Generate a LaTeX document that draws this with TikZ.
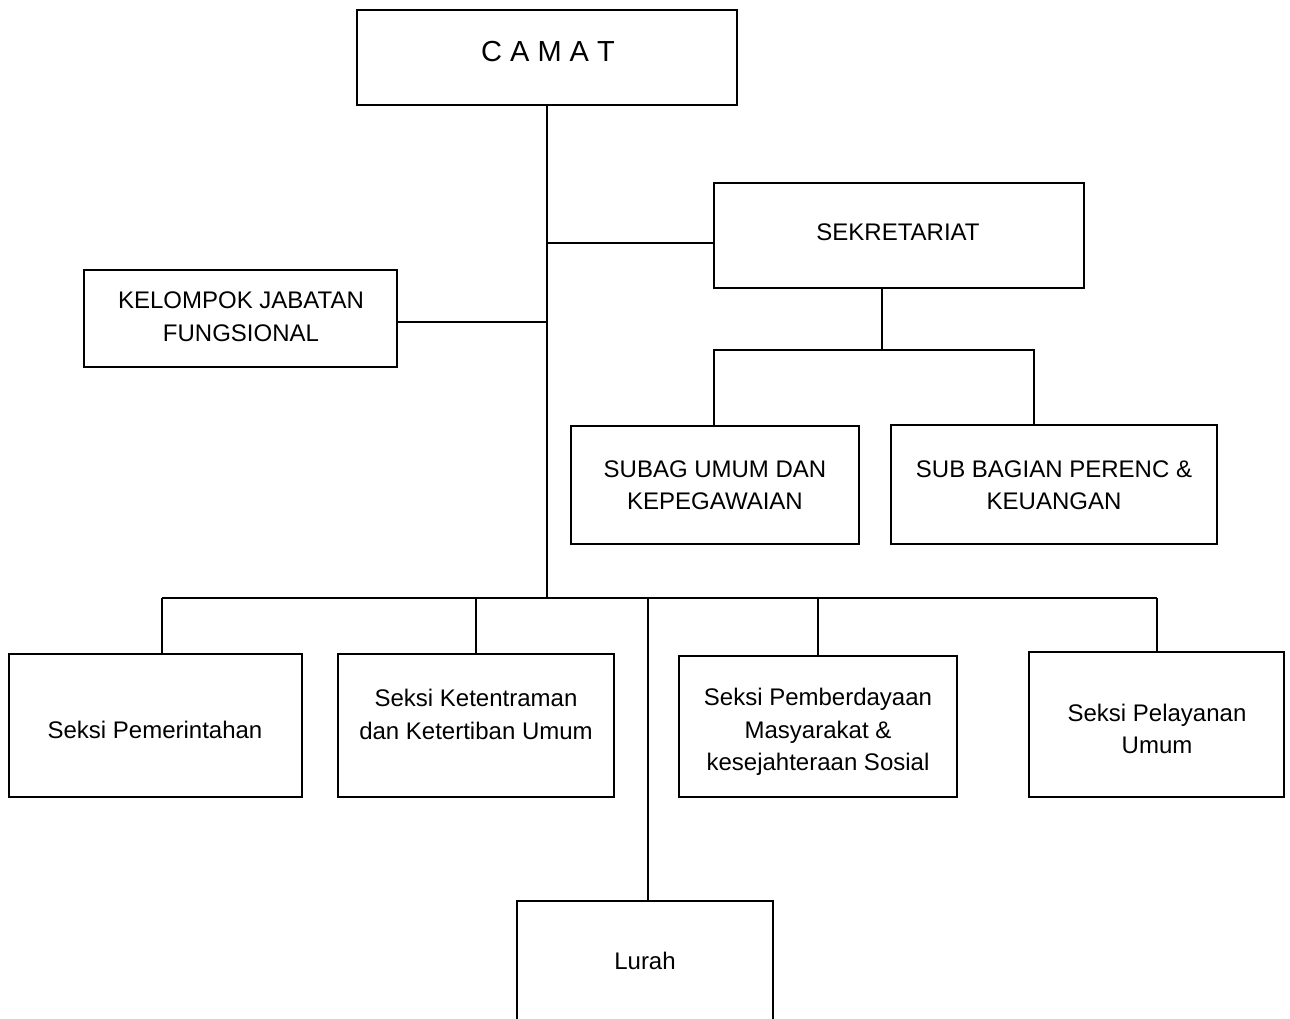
\documentclass[tikz,border=0pt]{standalone}
\usepackage{fontspec}
\setmainfont{Liberation Sans}
\begin{document}
\begin{tikzpicture}[x=1pt,y=-1pt,
  box/.style={draw=black, line width=1.5pt, inner sep=0pt, rectangle},
  txt/.style={inner sep=0pt, align=center, font=\fontsize{24}{32.5}\selectfont},
  conn/.style={draw=black, line width=1.5pt}]
\useasboundingbox (0,0) rectangle (1290,1019);
% boxes
\node[box, minimum width=380pt, minimum height=95pt] (camat) at (547,57.5) {};
\node[box, minimum width=370pt, minimum height=105pt] (sek) at (899,235.5) {};
\node[box, minimum width=313pt, minimum height=97pt] (kjf) at (240.5,318.5) {};
\node[box, minimum width=288pt, minimum height=118pt] (subag) at (715,485) {};
\node[box, minimum width=326pt, minimum height=119pt] (keu) at (1054,484.5) {};
\node[box, minimum width=293pt, minimum height=143pt] (pem) at (155.5,725.5) {};
\node[box, minimum width=276pt, minimum height=143pt] (tib) at (476,725.5) {};
\node[box, minimum width=278pt, minimum height=141pt] (pmd) at (818,726.5) {};
\node[box, minimum width=255pt, minimum height=145pt] (pel) at (1156.5,724.5) {};
\node[box, minimum width=256pt, minimum height=139pt] (lurah) at (645,970.5) {};
% texts
\node[txt, font=\fontsize{29}{34}\selectfont] (tcamat) at (548,52) {C A M A T};
\node[txt] (tsek) at (898,232) {SEKRETARIAT};
\node[txt] (tkjf) at (241,316.5) {KELOMPOK JABATAN\\FUNGSIONAL};
\node[txt] (tsubag) at (715,485) {SUBAG UMUM DAN\\KEPEGAWAIAN};
\node[txt] (tkeu) at (1054,485) {SUB BAGIAN PERENC \&\\KEUANGAN};
\node[txt] (tpem) at (155,730) {Seksi Pemerintahan};
\node[txt] (ttib) at (476,714.5) {Seksi Ketentraman\\dan Ketertiban Umum};
\node[txt] (tpmd) at (818,732) {Seksi Pemberdayaan\\Masyarakat \&\\kesejahteraan Sosial};
\node[txt] (tpel) at (1157,729) {Seksi Pelayanan\\Umum};
\node[txt] (tlurah) at (645,961) {Lurah};
% junction coordinates
\coordinate (j1) at (547,243);
\coordinate (j2) at (547,322);
\coordinate (bus) at (547,598);
\coordinate (s1) at (882,350);
\coordinate (s2) at (714,350);
\coordinate (s3) at (1034,350);
\coordinate (b0) at (162,598);
\coordinate (b1) at (476,598);
\coordinate (b2) at (648,598);
\coordinate (b3) at (818,598);
\coordinate (b4) at (1157,598);
% connectors
\draw[conn] (camat.south) -- (bus);
\draw[conn] (j1) -- (j1 -| sek.west);
\draw[conn] (j2) -- (j2 -| kjf.east);
\draw[conn] (s1 |- sek.south) -- (s1);
\draw[conn] (s2 |- subag.north) -- (s2) -- (s3) -- (s3 |- keu.north);
\draw[conn] (b0) -- (b4);
\draw[conn] (b0) -- (b0 |- pem.north);
\draw[conn] (b1) -- (b1 |- tib.north);
\draw[conn] (b2) -- (b2 |- lurah.north);
\draw[conn] (b3) -- (b3 |- pmd.north);
\draw[conn] (b4) -- (b4 |- pel.north);
\end{tikzpicture}
\end{document}
